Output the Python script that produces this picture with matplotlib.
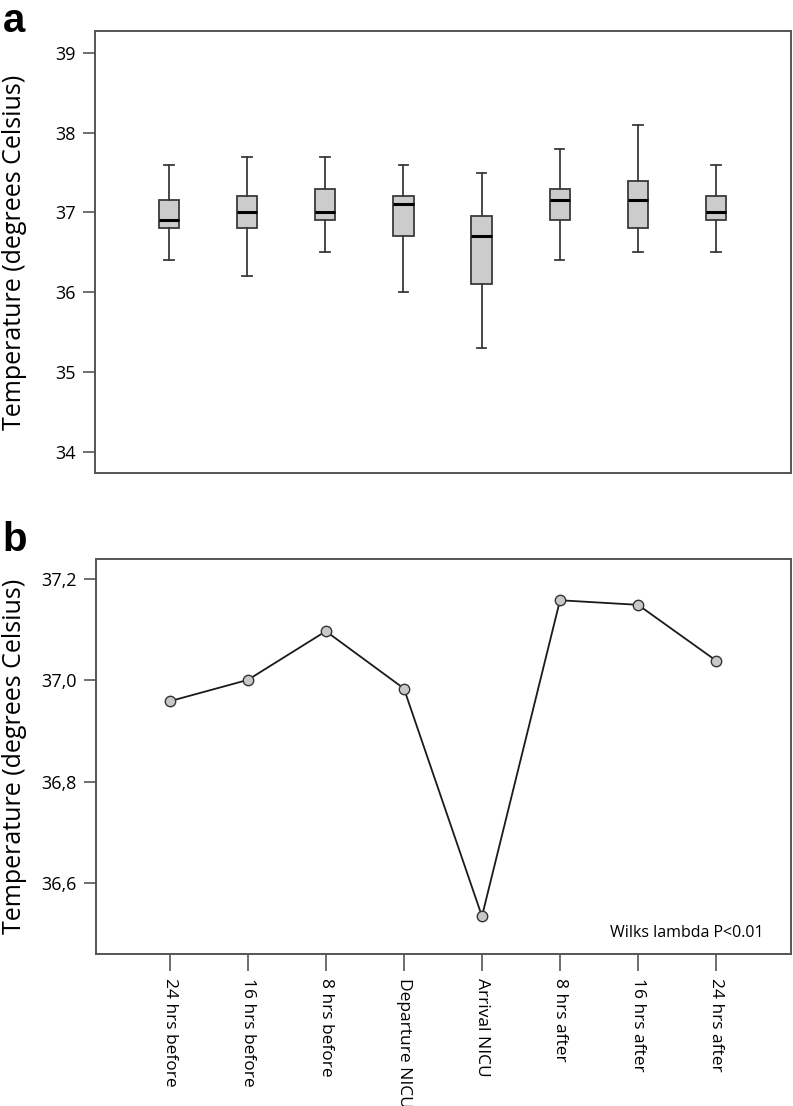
import matplotlib
matplotlib.use("Agg")
import matplotlib.pyplot as plt
from matplotlib.ticker import FuncFormatter

plt.rcParams['font.family'] = ['Open Sans', 'DejaVu Sans']

# time points
labels = ["24 hrs before", "16 hrs before", "8 hrs before", "Departure NICU",
          "Arrival NICU", "8 hrs after", "16 hrs after", "24 hrs after"]

# panel a: box plot summaries
whislo = [36.4, 36.2, 36.5, 36.0, 35.3, 36.4, 36.5, 36.5]
q1     = [36.8, 36.8, 36.9, 36.7, 36.1, 36.9, 36.8, 36.9]
med    = [36.9, 37.0, 37.0, 37.1, 36.7, 37.15, 37.15, 37.0]
q3     = [37.15, 37.2, 37.3, 37.2, 36.95, 37.3, 37.4, 37.2]
whishi = [37.6, 37.7, 37.7, 37.6, 37.5, 37.8, 38.1, 37.6]

# panel b: mean temperature
means = [36.959, 37.001, 37.097, 36.984, 36.535, 37.158, 37.149, 37.039]

pos = list(range(1, len(labels) + 1))
spine_col = "#555555"

fig = plt.figure(figsize=(7.93, 11.06), dpi=100)
ax1 = fig.add_axes([0.1198, 0.5721, 0.8777, 0.3999])
ax2 = fig.add_axes([0.1211, 0.1374, 0.8764, 0.3572])

# ---- panel a ----
stats = []
for i in range(len(labels)):
    stats.append({"whislo": whislo[i], "q1": q1[i], "med": med[i],
                  "q3": q3[i], "whishi": whishi[i], "fliers": []})
ax1.bxp(stats, positions=pos, widths=0.26, showfliers=False, patch_artist=True,
        boxprops=dict(facecolor="#cccccc", edgecolor="#3a3a3a", linewidth=1.3),
        medianprops=dict(color="black", linewidth=2.2),
        whiskerprops=dict(color="#3a3a3a", linewidth=1.3),
        capprops=dict(color="#3a3a3a", linewidth=1.3),
        capwidths=0.12)
ax1.set_xlim(0.055, 8.96)
ax1.set_ylim(33.73, 39.275)
ax1.set_yticks([34, 35, 36, 37, 38, 39])
ax1.set_xticks([])
ax1.set_ylabel("Temperature (degrees Celsius)", fontsize=18, labelpad=20)

# ---- panel b ----
ax2.plot(pos, means, color="#1a1a1a", linewidth=1.3, marker="o", markersize=7.5,
         markerfacecolor="#c8c8c8", markeredgecolor="#333333", markeredgewidth=1.0)
ax2.set_xlim(0.055, 8.96)
ax2.set_ylim(36.4606, 37.2394)
ax2.set_yticks([36.6, 36.8, 37.0, 37.2])
ax2.yaxis.set_major_formatter(FuncFormatter(lambda v, p: f"{v:.1f}".replace(".", ",")))
ax2.set_xticks(pos)
ax2.set_xticklabels(labels, rotation=270, fontsize=12.5)
ax2.tick_params(axis="x", length=12, width=1.2, color=spine_col, pad=5)
ax2.set_ylabel("Temperature (degrees Celsius)", fontsize=18, labelpad=10)
ax2.text(0.961, 0.043, "Wilks lambda P<0.01", transform=ax2.transAxes,
         ha="right", va="baseline", fontsize=11.5)

for ax in (ax1, ax2):
    for s in ax.spines.values():
        s.set_color(spine_col)
        s.set_linewidth(1.4)
    ax.tick_params(axis="y", length=9, width=1.2, color=spine_col, labelsize=13, pad=5)

fig.text(0.003, 0.998, "a", fontsize=29, fontweight="bold", ha="left", va="top",
         family=["Liberation Sans", "DejaVu Sans"])
fig.text(0.003, 0.5285, "b", fontsize=29, fontweight="bold", ha="left", va="top",
         family=["Liberation Sans", "DejaVu Sans"])

fig.savefig("out.png", dpi=100)
